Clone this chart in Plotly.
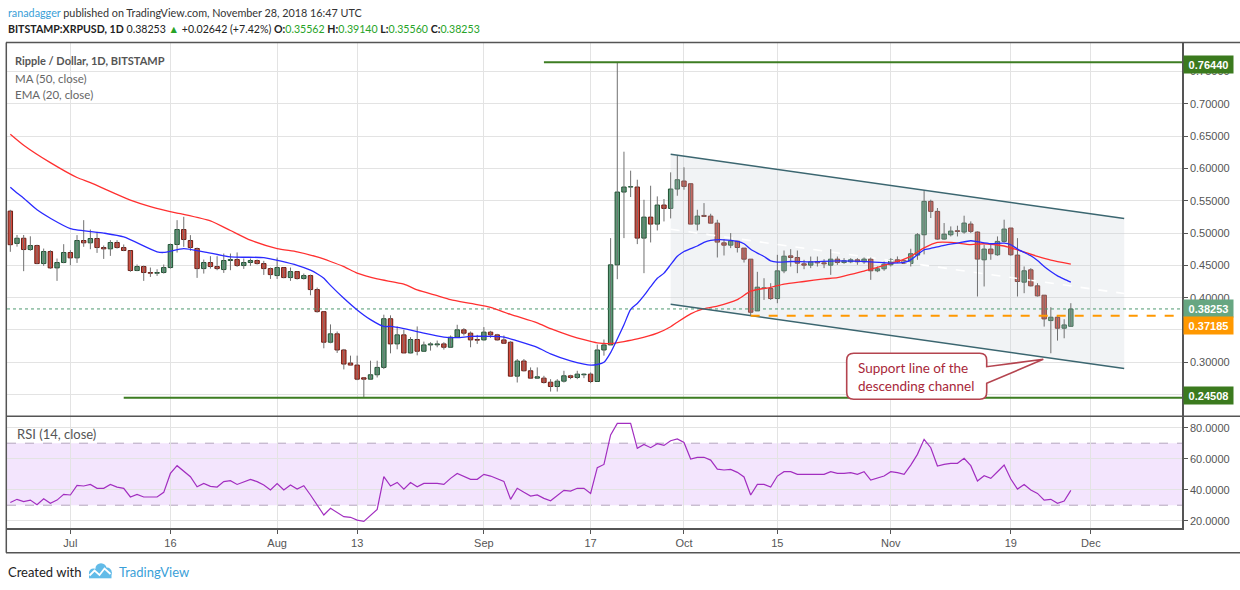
import plotly.graph_objects as go
import pandas as pd

# ---------------- data ----------------
start_date = "2018-06-22"

opens = [0.534,0.484,0.492,0.4745,0.4807,0.4528,0.4714,0.4461,0.4544,0.4699,
0.4616,0.4885,0.4849,0.4916,0.4776,0.4756,0.4854,0.4776,0.473,0.442,
0.4482,0.4389,0.4378,0.4389,0.4466,0.4823,0.5055,0.4885,0.4761,0.445,
0.4544,0.4482,0.4435,0.4575,0.459,0.4497,0.4544,0.4575,0.4528,0.445,
0.4342,0.4466,0.4311,0.4404,0.4296,0.4342,0.4125,0.3783,0.331,0.344,
0.319,0.2988,0.2956,0.2759,0.2738,0.2806,0.292,0.3674,0.3284,0.3424,
0.3144,0.3352,0.317,0.3268,0.327,0.3284,0.3232,0.3388,0.3502,0.345,
0.3352,0.3346,0.3466,0.3424,0.3346,0.331,0.2785,0.3019,0.2868,0.2754,
0.2754,0.2691,0.2624,0.2707,0.279,0.2764,0.2806,0.2816,0.2702,0.319,
0.3268,0.4508,0.5635,0.5713,0.5713,0.4922,0.5247,0.5139,0.5434,0.5382,
0.5682,0.5806,0.5764,0.5139,0.5273,0.5263,0.5154,0.4849,0.4813,0.4875,
0.4767,0.4596,0.3795,0.4141,0.4141,0.3986,0.4415,0.4647,0.4622,0.4524,
0.4503,0.456,0.4539,0.4503,0.4596,0.4544,0.4555,0.4586,0.4555,0.4597,
0.4416,0.4447,0.4509,0.4586,0.4571,0.453,0.4659,0.4974,0.5491,0.5336,
0.4907,0.4974,0.5036,0.5016,0.514,0.5016,0.4586,0.4752,0.4664,0.4871,
0.5078,0.4659,0.424,0.4431,0.4183,0.4038,0.3645,0.3697,0.3527,0.35562]

highs = [0.536,0.497,0.497,0.495,0.482,0.476,0.4735,0.4606,0.4828,0.4735,
0.4968,0.520,0.5055,0.5019,0.4807,0.489,0.489,0.4823,0.473,0.4513,
0.4497,0.4466,0.444,0.4513,0.4838,0.520,0.5252,0.4968,0.4776,0.459,
0.4642,0.4642,0.4683,0.4683,0.470,0.4606,0.4606,0.459,0.457,0.4466,
0.4621,0.4466,0.4466,0.4404,0.4373,0.4357,0.4156,0.3783,0.3586,0.3476,
0.3206,0.3102,0.3102,0.2759,0.3024,0.3024,0.3736,0.3726,0.3554,0.3502,
0.3388,0.3554,0.332,0.331,0.3336,0.331,0.3414,0.358,0.3528,0.3476,
0.3424,0.3544,0.3486,0.344,0.3414,0.3326,0.305,0.305,0.292,0.292,
0.279,0.2738,0.2738,0.2868,0.2806,0.2868,0.2826,0.2842,0.3274,0.3352,
0.4922,0.7644,0.626,0.5966,0.5826,0.5516,0.5733,0.5568,0.5527,0.594,
0.6199,0.6018,0.5764,0.5361,0.5464,0.5299,0.5206,0.4906,0.50,0.4875,
0.4767,0.4596,0.44,0.4301,0.4224,0.4663,0.473,0.4751,0.473,0.4586,
0.4637,0.4637,0.4596,0.4751,0.4637,0.4612,0.4612,0.4612,0.4622,0.4622,
0.4483,0.456,0.4612,0.4638,0.4586,0.4757,0.50,0.5662,0.5517,0.5388,
0.5155,0.5103,0.5114,0.5269,0.5181,0.5026,0.4819,0.4819,0.4948,0.5207,
0.5078,0.4922,0.4483,0.4457,0.4224,0.4038,0.3852,0.3723,0.3666,0.3914]

lows = [0.471,0.479,0.441,0.4725,0.4518,0.4492,0.4445,0.426,0.4533,0.4502,
0.4538,0.4787,0.475,0.4693,0.460,0.4647,0.476,0.472,0.440,0.441,
0.426,0.4321,0.4337,0.4373,0.445,0.4699,0.4787,0.4725,0.4306,0.4373,
0.445,0.4425,0.4383,0.4425,0.4477,0.4445,0.4492,0.4513,0.4352,0.429,
0.429,0.430,0.426,0.428,0.428,0.4037,0.3768,0.3216,0.3294,0.3144,
0.2889,0.2956,0.2722,0.2451,0.2728,0.2764,0.2894,0.3138,0.320,0.3144,
0.3138,0.3107,0.317,0.318,0.3232,0.3196,0.3232,0.3378,0.3414,0.3232,
0.3284,0.3336,0.3378,0.3336,0.3294,0.2785,0.2686,0.2858,0.2743,0.2743,
0.267,0.2546,0.2546,0.2686,0.2738,0.2738,0.2754,0.2676,0.2702,0.3102,
0.3268,0.4286,0.4922,0.5558,0.4829,0.4379,0.4855,0.504,0.518,0.5227,
0.5578,0.5671,0.5139,0.504,0.5258,0.5154,0.4622,0.4653,0.4767,0.4699,
0.4544,0.3719,0.3795,0.3965,0.3965,0.3914,0.4379,0.4482,0.4379,0.4441,
0.4457,0.4482,0.4457,0.4353,0.4508,0.4524,0.4534,0.4509,0.4524,0.4276,
0.4395,0.4416,0.4483,0.4535,0.452,0.4483,0.4586,0.467,0.5233,0.4897,
0.4897,0.4948,0.4948,0.499,0.50,0.4018,0.4173,0.4586,0.4648,0.4855,
0.4648,0.4018,0.4069,0.4173,0.4018,0.3552,0.3139,0.3335,0.3371,0.3556]

closes = [0.482,0.492,0.4745,0.4807,0.4528,0.4714,0.4461,0.4544,0.4699,0.4616,
0.4885,0.4849,0.4916,0.4776,0.4756,0.4854,0.4776,0.473,0.442,0.4482,
0.4389,0.4378,0.4389,0.4466,0.4823,0.5055,0.490,0.4776,0.445,0.4544,
0.4482,0.445,0.4575,0.459,0.4497,0.4544,0.4575,0.4528,0.445,0.4357,
0.4466,0.4311,0.4404,0.4296,0.4342,0.4125,0.3784,0.331,0.344,0.319,
0.2972,0.2956,0.2738,0.2738,0.2806,0.292,0.3674,0.3284,0.3424,0.3144,
0.3352,0.317,0.3268,0.3284,0.3284,0.3232,0.3388,0.3502,0.345,0.3346,
0.3342,0.3466,0.3424,0.3346,0.3294,0.2785,0.3019,0.2868,0.2754,0.2775,
0.2686,0.2624,0.2707,0.279,0.2764,0.2816,0.2816,0.2702,0.319,0.3268,
0.4508,0.5635,0.5713,0.5718,0.4922,0.5247,0.5139,0.5434,0.5382,0.5682,
0.5826,0.5723,0.5139,0.5263,0.5258,0.5154,0.486,0.4813,0.4875,0.4777,
0.4596,0.3774,0.4162,0.4152,0.3986,0.4415,0.4642,0.4622,0.4534,0.4503,
0.4555,0.4539,0.4524,0.4596,0.4544,0.4571,0.4586,0.4555,0.4597,0.4416,
0.4447,0.4519,0.4586,0.4555,0.453,0.468,0.4974,0.5491,0.5336,0.4907,
0.4984,0.5031,0.5026,0.5155,0.5026,0.4597,0.4752,0.468,0.4871,0.5062,
0.4664,0.425,0.4416,0.4183,0.4028,0.3671,0.3697,0.3527,0.3578,0.38253]

rsi_vals = [31.8,33.8,32.3,33.3,30.3,34.2,31.2,33.3,37.0,36.6,
42.8,42.4,43.4,40.9,40.9,43.4,41.7,40.9,35.3,37.0,
35.3,35.3,35.3,38.3,50.5,55.5,52.0,48.4,41.9,44.1,
42.2,41.7,45.2,45.8,43.4,45.2,46.7,45.2,43.0,39.8,
43.9,39.8,43.0,40.4,42.6,36.6,30.1,23.7,28.0,25.2,
22.6,22.2,20.4,19.6,23.2,27.3,48.4,42.4,44.7,40.4,
44.6,41.9,44.1,44.1,44.1,43.4,47.3,50.5,48.8,46.7,
46.7,49.9,48.8,46.9,45.4,33.8,40.9,38.3,35.9,36.6,
34.4,32.9,36.1,39.6,39.1,40.9,40.9,37.6,54.2,56.3,
75.3,82.8,82.8,82.8,66.7,69.2,67.1,69.7,68.6,71.6,
72.7,70.5,59.8,60.9,60.9,59.1,53.3,52.7,53.1,51.2,
48.2,36.6,43.4,43.4,41.7,48.8,51.6,51.6,49.9,49.9,
50.1,49.9,49.9,51.6,50.5,50.5,51.0,49.9,51.6,46.2,
47.3,48.8,51.6,51.0,49.9,55.9,62.8,72.5,67.1,55.3,
56.3,57.0,57.0,60.2,55.5,45.6,49.0,47.3,51.6,55.9,
46.9,40.4,43.4,39.8,37.6,33.3,33.8,31.2,32.7,39.6]

ma50_dates = ["2018-06-22","2018-06-24","2018-06-28","2018-07-02","2018-07-04","2018-07-10",
"2018-07-13","2018-07-17","2018-07-18","2018-07-22","2018-07-25","2018-07-28","2018-08-01",
"2018-08-04","2018-08-07","2018-08-09","2018-08-11","2018-08-13","2018-08-16","2018-08-20",
"2018-08-22","2018-08-25","2018-08-27","2018-08-30","2018-09-02","2018-09-05","2018-09-09",
"2018-09-11","2018-09-14","2018-09-16","2018-09-18","2018-09-20","2018-09-22","2018-09-24",
"2018-09-27","2018-09-29","2018-09-30","2018-10-02","2018-10-04","2018-10-06","2018-10-09",
"2018-10-11","2018-10-14","2018-10-16","2018-10-19","2018-10-22","2018-10-24","2018-10-26",
"2018-10-28","2018-10-30","2018-11-02","2018-11-04","2018-11-06","2018-11-08","2018-11-10",
"2018-11-13","2018-11-15","2018-11-18","2018-11-20","2018-11-23","2018-11-25","2018-11-28"]
ma50_vals = [0.653,0.636,0.609,0.586,0.578,0.551,
0.541,0.531,0.529,0.519,0.504,0.489,0.476,
0.471,0.463,0.456,0.448,0.438,0.429,0.421,
0.412,0.403,0.397,0.391,0.385,0.374,0.361,
0.352,0.341,0.335,0.330,0.329,0.332,0.336,
0.345,0.355,0.362,0.375,0.383,0.387,0.397,
0.410,0.416,0.421,0.425,0.429,0.431,0.436,
0.441,0.447,0.456,0.464,0.477,0.4855,0.4855,
0.482,0.4835,0.480,0.474,0.4638,0.458,0.452]

ema20_dates = ["2018-06-22","2018-06-23","2018-06-24","2018-06-26","2018-06-28","2018-07-01",
"2018-07-06","2018-07-09","2018-07-14","2018-07-15","2018-07-18","2018-07-21","2018-07-25",
"2018-07-30","2018-08-04","2018-08-06","2018-08-07","2018-08-08","2018-08-09","2018-08-11",
"2018-08-13","2018-08-15","2018-08-17","2018-08-18","2018-08-20","2018-08-23","2018-08-26",
"2018-08-28","2018-08-30","2018-09-02","2018-09-04","2018-09-06","2018-09-09","2018-09-11",
"2018-09-14","2018-09-16","2018-09-17","2018-09-18","2018-09-19","2018-09-20","2018-09-21",
"2018-09-22","2018-09-23","2018-09-24","2018-09-25","2018-09-26","2018-09-27","2018-09-28",
"2018-09-29","2018-09-30","2018-10-01","2018-10-02","2018-10-03","2018-10-04","2018-10-05",
"2018-10-07","2018-10-09","2018-10-10","2018-10-11","2018-10-12","2018-10-13","2018-10-14",
"2018-10-15","2018-10-17","2018-10-20","2018-10-24","2018-10-29","2018-11-01","2018-11-03",
"2018-11-04","2018-11-05","2018-11-06","2018-11-07","2018-11-09","2018-11-11","2018-11-13",
"2018-11-14","2018-11-16","2018-11-18","2018-11-19","2018-11-20","2018-11-21","2018-11-22",
"2018-11-23","2018-11-24","2018-11-25","2018-11-26","2018-11-27","2018-11-28"]
ema20_vals = [0.571,0.562,0.554,0.536,0.523,0.507,
0.500,0.494,0.471,0.470,0.476,0.471,0.463,
0.462,0.450,0.4425,0.437,0.430,0.419,0.399,
0.381,0.366,0.3554,0.3554,0.352,0.345,0.339,
0.338,0.340,0.340,0.339,0.333,0.323,0.313,
0.302,0.297,0.2955,0.2965,0.300,0.315,0.336,
0.358,0.382,0.391,0.403,0.417,0.430,0.438,
0.451,0.464,0.4715,0.476,0.480,0.4855,0.4886,
0.4896,0.487,0.4834,0.475,0.469,0.4637,0.457,
0.455,0.456,0.4555,0.457,0.4555,0.4535,0.4545,
0.4586,0.4664,0.4742,0.4762,0.4809,0.4845,0.4881,
0.4866,0.4835,0.4845,0.4819,0.4752,0.470,0.4648,
0.4576,0.4483,0.4405,0.4338,0.4287,0.424]

resistance_level = 0.76440
resistance_from = "2018-09-10"
support_level = 0.24508
support_from = "2018-07-09"
last_close = 0.38253
swing_low = 0.37185
swing_low_from = "2018-10-11"

channel_dates = ["2018-09-29", "2018-12-06"]
channel_upper = [0.622, 0.5225]
channel_lower = [0.3897, 0.2903]

x_range = ["2018-06-21 12:00", "2018-12-14 16:00"]
tick_dates = ["2018-07-01","2018-07-16","2018-08-01","2018-08-13","2018-09-01",
              "2018-09-17","2018-10-01","2018-10-15","2018-11-01","2018-11-19","2018-12-01"]
tick_labels = ["Jul","16","Aug","13","Sep","17","Oct","15","Nov","19","Dec"]
price_ticks = [0.25,0.30,0.35,0.40,0.45,0.50,0.55,0.60,0.65,0.70,0.75]
# 0.25 and 0.35 are fully hidden behind the level labels in the reference
price_tick_text = ["","0.30000","","0.40000","0.45000","0.50000","0.55000","0.60000","0.65000","0.70000","0.75000"]
rsi_ticks = [20,40,60,80]

# ---------------- styling ----------------
UP_FILL, UP_EDGE = "#5c9e7a", "#1f4f31"
DN_FILL, DN_EDGE = "#d4493b", "#6a1d15"
WICK = "#707070"
GRID = "#e3e3e3"
AXIS = "#555555"
TXT = "Lato, 'Liberation Sans', sans-serif"
AXF = "'Liberation Sans', Arial, sans-serif"

PL, PR, PT, PB = 7, 1182, 43, 528
def fx(px):
    return (px - PL) / (PR - PL)
def fy(py):
    return (PB - py) / (PB - PT)
split = fy(416.3)

dates = pd.date_range(start_date, periods=len(opens), freq="D")
n = len(opens)
end_x = "2018-12-16"

fig = go.Figure()

fig.add_trace(go.Scatter(
    x=[channel_dates[0], channel_dates[1], channel_dates[1], channel_dates[0], channel_dates[0]],
    y=[channel_upper[0], channel_upper[1], channel_lower[1], channel_lower[0], channel_upper[0]],
    fill="toself", fillcolor="rgba(200,206,216,0.25)", line=dict(width=0),
    mode="lines", hoverinfo="skip"))
fig.add_trace(go.Scatter(
    x=channel_dates,
    y=[(channel_upper[0] + channel_lower[0]) / 2, (channel_upper[1] + channel_lower[1]) / 2],
    mode="lines", line=dict(color="white", width=1.6, dash="dash"), hoverinfo="skip"))

fig.add_trace(go.Scatter(x=[x_range[0], end_x], y=[last_close, last_close], mode="lines",
                         line=dict(color="#4f9a70", width=1, dash="dot"), hoverinfo="skip"))

wx, wy = [], []
for d, h, l in zip(dates, highs, lows):
    wx += [d, d, None]
    wy += [l, h, None]
fig.add_trace(go.Scatter(x=wx, y=wy, mode="lines", line=dict(color=WICK, width=1), hoverinfo="skip"))

up = [i for i in range(n) if closes[i] >= opens[i]]
dn = [i for i in range(n) if closes[i] < opens[i]]
bw = 0.66 * 86400000
fig.add_trace(go.Bar(x=[dates[i] for i in up], y=[closes[i] - opens[i] for i in up],
                     base=[opens[i] for i in up], width=bw,
                     marker=dict(color=UP_FILL, line=dict(color=UP_EDGE, width=1)), hoverinfo="skip"))
fig.add_trace(go.Bar(x=[dates[i] for i in dn], y=[opens[i] - closes[i] for i in dn],
                     base=[closes[i] for i in dn], width=bw,
                     marker=dict(color=DN_FILL, line=dict(color=DN_EDGE, width=1)), hoverinfo="skip"))

fig.add_trace(go.Scatter(x=ma50_dates, y=ma50_vals, mode="lines", line=dict(color="#ff3030", width=1.3, shape="spline", smoothing=0.6), hoverinfo="skip"))
fig.add_trace(go.Scatter(x=ema20_dates, y=ema20_vals, mode="lines", line=dict(color="#2a2aff", width=1.3, shape="spline", smoothing=0.6), hoverinfo="skip"))

fig.add_trace(go.Scatter(x=channel_dates, y=channel_upper, mode="lines", line=dict(color="#3b6670", width=1.5), hoverinfo="skip"))
fig.add_trace(go.Scatter(x=channel_dates, y=channel_lower, mode="lines", line=dict(color="#3b6670", width=1.5), hoverinfo="skip"))

fig.add_trace(go.Scatter(x=[swing_low_from, end_x], y=[swing_low, swing_low], mode="lines",
                         line=dict(color="#ff9800", width=2, dash="dash"), hoverinfo="skip"))

fig.add_trace(go.Scatter(x=[resistance_from, end_x], y=[resistance_level] * 2, mode="lines",
                         line=dict(color="#3d7d22", width=2), hoverinfo="skip"))
fig.add_trace(go.Scatter(x=[support_from, end_x], y=[support_level] * 2, mode="lines",
                         line=dict(color="#3d7d22", width=2), hoverinfo="skip"))

fig.add_trace(go.Scatter(x=dates, y=rsi_vals, mode="lines", xaxis="x2", yaxis="y2",
                         line=dict(color="#a22ec0", width=1.2), hoverinfo="skip"))

shapes = []
shapes.append(dict(type="rect", xref="x2 domain", yref="y2", x0=0, x1=1, y0=30, y1=70,
                   fillcolor="#f3e5fd", line=dict(width=0), layer="below"))
for lv in (30, 70):
    shapes.append(dict(type="line", xref="x2 domain", yref="y2", x0=0, x1=1, y0=lv, y1=lv,
                       line=dict(color="#b4a6bd", width=1, dash="dash"), layer="below"))
shapes.append(dict(type="line", xref="paper", yref="paper", x0=fx(6), x1=fx(1240), y0=split, y1=split,
                   line=dict(color=AXIS, width=1.5)))
shapes.append(dict(type="line", xref="paper", yref="paper", x0=fx(6), x1=fx(1240), y0=fy(42.5), y1=fy(42.5),
                   line=dict(color=AXIS, width=1.5)))
shapes.append(dict(type="line", xref="paper", yref="paper", x0=fx(6.3), x1=fx(6.3), y0=fy(42.5), y1=fy(552.7),
                   line=dict(color=AXIS, width=1.5)))
shapes.append(dict(type="line", xref="paper", yref="paper", x0=fx(6), x1=fx(1240), y0=fy(552.7), y1=fy(552.7),
                   line=dict(color=AXIS, width=1.5)))

def ppath(cmds):
    out = []
    for c in cmds:
        if isinstance(c, str):
            out.append(c)
        else:
            out.append(f"{fx(c[0]):.5f},{fy(c[1]):.5f}")
    return " ".join(out)

bx0, bx1, by0, by1, r = 846.7, 986.7, 353.3, 399.3, 7
callout = ppath(["M", (bx0 + r, by0), "L", (bx1 - r, by0), "Q", (bx1, by0), (bx1, by0 + r),
                 "L", (bx1, 366.7), "L", (1043.3, 359.3), "L", (bx1, 383.3),
                 "L", (bx1, by1 - r), "Q", (bx1, by1), (bx1 - r, by1),
                 "L", (bx0 + r, by1), "Q", (bx0, by1), (bx0, by1 - r),
                 "L", (bx0, by0 + r), "Q", (bx0, by0), (bx0 + r, by0), "Z"])
shapes.append(dict(type="path", xref="paper", yref="paper", path=callout,
                   fillcolor="white", line=dict(color="#b4444f", width=1.6), layer="above"))

def circ(cx, cy, rr, col):
    return dict(type="circle", xref="paper", yref="paper", x0=fx(cx - rr), x1=fx(cx + rr),
                y0=fy(cy + rr), y1=fy(cy - rr), fillcolor=col, line=dict(width=0))
LOGO = "#62bbe8"
shapes.append(circ(93.5, 573.0, 4.6, LOGO))
shapes.append(circ(101.0, 568.8, 5.6, LOGO))
shapes.append(circ(106.8, 572.5, 5.0, LOGO))
shapes.append(dict(type="rect", xref="paper", yref="paper", x0=fx(89), x1=fx(111.5), y0=fy(578.3), y1=fy(572),
                   fillcolor=LOGO, line=dict(width=0)))
shapes.append(dict(type="path", xref="paper", yref="paper",
                   path=ppath(["M", (89.5, 575.5), "L", (94.5, 570.5), "L", (99.5, 575), "L", (104.5, 568.5), "L", (110.5, 574)]),
                   line=dict(color="white", width=1.8)))

ann = []
GREEN = "#27a327"
ann.append(dict(xref="paper", yref="paper", x=fx(6), y=fy(12), xanchor="left", yanchor="middle", showarrow=False,
                text='<span style="color:#3aa0d8">ranadagger</span> published on TradingView.com, November 28, 2018 16:47 UTC',
                font=dict(family=TXT, size=10.8, color="#333")))
g = lambda s: f'<span style="color:{GREEN}">{s}</span>'
ann.append(dict(xref="paper", yref="paper", x=fx(6), y=fy(29), xanchor="left", yanchor="middle", showarrow=False,
                text=f'<b>BITSTAMP:XRPUSD, 1D</b> 0.38253 {g("▲")} +0.02642 (+7.42%) <b>O:</b>{g("0.35562")} '
                     f'<b>H:</b>{g("0.39140")} <b>L:</b>{g("0.35560")} <b>C:</b>{g("0.38253")}',
                font=dict(family=TXT, size=10.6, color="#222")))
ann.append(dict(xref="paper", yref="paper", x=fx(13), y=fy(61), xanchor="left", yanchor="middle", showarrow=False,
                text="<b>Ripple / Dollar, 1D, BITSTAMP</b>", font=dict(family=TXT, size=11, color="#555")))
ann.append(dict(xref="paper", yref="paper", x=fx(13), y=fy(78.5), xanchor="left", yanchor="middle", showarrow=False,
                text="MA (50, close)", font=dict(family=TXT, size=11.5, color="#666")))
ann.append(dict(xref="paper", yref="paper", x=fx(13), y=fy(95), xanchor="left", yanchor="middle", showarrow=False,
                text="EMA (20, close)", font=dict(family=TXT, size=11.5, color="#666")))
ann.append(dict(xref="paper", yref="paper", x=fx(15), y=fy(433.5), xanchor="left", yanchor="middle", showarrow=False,
                text="RSI (14, close)", font=dict(family=TXT, size=13, color="#555")))
ann.append(dict(xref="paper", yref="paper", x=fx(6), y=fy(572), xanchor="left", yanchor="middle", showarrow=False,
                text="Created with", font=dict(family=TXT, size=13, color="#222")))
ann.append(dict(xref="paper", yref="paper", x=fx(117), y=fy(572), xanchor="left", yanchor="middle", showarrow=False,
                text="TradingView", font=dict(family=TXT, size=13, color="#3aa0d8")))
ann.append(dict(xref="paper", yref="paper", x=fx(856), y=fy(376.5), xanchor="left", yanchor="middle", showarrow=False,
                text="Support line of the<br>descending channel", align="left",
                font=dict(family=TXT, size=13.5, color="#a8283a")))

for val, bg, shift in [(resistance_level, "#3b7a1e", -2), (last_close, "#67a681", 0),
                       (swing_low, "#ff9800", -10), (support_level, "#3b7a1e", 2)]:
    ann.append(dict(xref="paper", yref="y", x=1.0, y=val, xanchor="left", yanchor="middle", showarrow=False,
                    text=f"<b>{val:.5f}</b>", bgcolor=bg, font=dict(family=AXF, size=11, color="white"),
                    width=45, height=13, borderpad=2, yshift=shift, xshift=1))

fig.update_layout(
    width=1240, height=590,
    margin=dict(l=PL, r=1240 - PR, t=PT, b=590 - PB),
    paper_bgcolor="white", plot_bgcolor="white",
    showlegend=False, barmode="overlay",
    shapes=shapes, annotations=ann,
    xaxis=dict(domain=[0, 1], anchor="y", type="date", range=x_range, tickvals=tick_dates,
               showticklabels=False, showgrid=True, gridcolor=GRID, zeroline=False, showline=False,
               ticks="", fixedrange=True),
    xaxis2=dict(domain=[0, 1], anchor="y2", type="date", range=x_range, matches="x",
                tickvals=tick_dates, ticktext=tick_labels, showticklabels=True, ticks="outside",
                ticklen=4, tickcolor=AXIS, showline=True, linecolor=AXIS, linewidth=1.5,
                showgrid=True, gridcolor=GRID, zeroline=False,
                tickfont=dict(family=AXF, size=11, color="#555")),
    yaxis=dict(domain=[split, 1], anchor="x", side="right", range=[0.2163, 0.7943],
               tickvals=price_ticks, ticktext=price_tick_text, ticks="outside", ticklen=4, tickcolor=AXIS,
               showline=True, linecolor=AXIS, linewidth=1.5, showgrid=True, gridcolor=GRID,
               zeroline=False, tickfont=dict(family=AXF, size=11, color="#555")),
    yaxis2=dict(domain=[0, split], anchor="x2", side="right", range=[15.3, 87.35],
                tickvals=rsi_ticks, tickformat=".4f", ticks="outside", ticklen=4, tickcolor=AXIS,
                showline=True, linecolor=AXIS, linewidth=1.5, showgrid=True, gridcolor=GRID,
                zeroline=False, tickfont=dict(family=AXF, size=11, color="#555")),
)

fig.write_html("out.html", config={"displayModeBar": False},
               post_script="document.body.style.margin='0';document.body.style.overflow='hidden';")
